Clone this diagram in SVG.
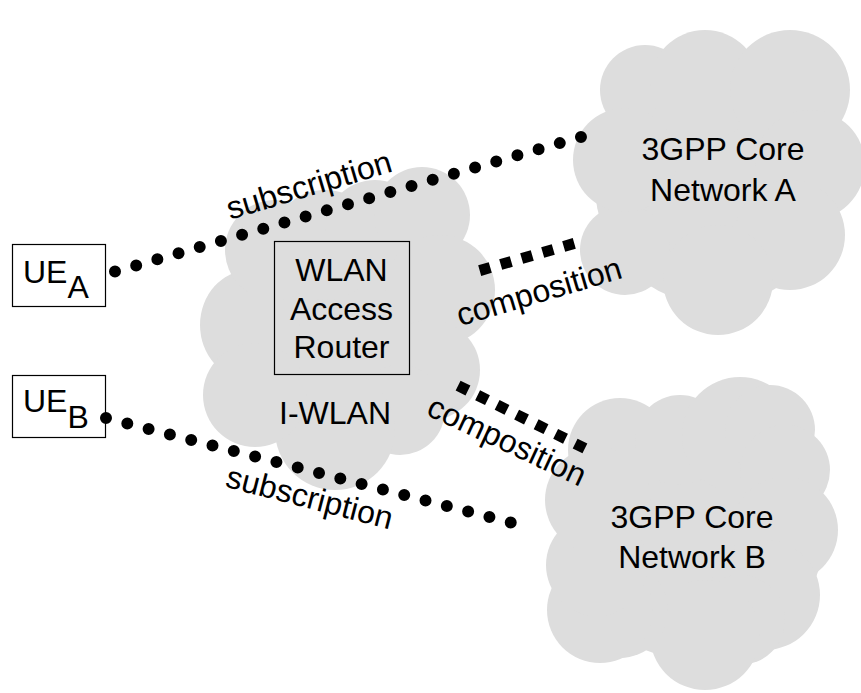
<svg xmlns="http://www.w3.org/2000/svg" width="861" height="693" viewBox="0 0 861 693">
<style>
.cloud *{fill:#dddddd;stroke:none}
.box{fill:none;stroke:#000;stroke-width:1.2}
text{font-family:"Liberation Sans",Arial,sans-serif;font-size:32px;fill:#000}
.mid{text-anchor:middle}
.dots{fill:none;stroke:#000;stroke-width:12;stroke-linecap:round}
.sq{fill:none;stroke:#000;stroke-width:11;stroke-linecap:butt}
</style>
<rect width="861" height="693" fill="#fff"/>
<g id="iwlan">
<g class="cloud">
<ellipse cx="345" cy="320" rx="120" ry="120"/>
<ellipse cx="250" cy="325" rx="50" ry="55"/>
<circle cx="275" cy="250" r="50"/>
<circle cx="325" cy="245" r="55"/>
<circle cx="375" cy="230" r="50"/>
<circle cx="422" cy="215" r="48"/>
<circle cx="440" cy="290" r="55"/>
<circle cx="430" cy="370" r="50"/>
<circle cx="400" cy="410" r="45"/>
<circle cx="335" cy="430" r="60"/>
<circle cx="255" cy="395" r="52"/>
</g>
<text class="mid" x="335" y="424">I-WLAN</text>
</g>
<g id="cn-a">
<g class="cloud">
<ellipse cx="715" cy="185" rx="120" ry="120"/>
<circle cx="645" cy="90" r="45"/>
<circle cx="705" cy="85" r="55"/>
<circle cx="790" cy="90" r="60"/>
<circle cx="810" cy="165" r="55"/>
<circle cx="790" cy="235" r="55"/>
<circle cx="718" cy="280" r="55"/>
<circle cx="625" cy="250" r="45"/>
<circle cx="625" cy="160" r="52"/>
</g>
<text class="mid" x="723" y="160">3GPP Core</text>
<text class="mid" x="723" y="201">Network A</text>
</g>
<g id="cn-b">
<g class="cloud">
<ellipse cx="695" cy="530" rx="130" ry="130"/>
<circle cx="620" cy="450" r="52"/>
<circle cx="680" cy="440" r="45"/>
<circle cx="740" cy="435" r="58"/>
<circle cx="770" cy="430" r="45"/>
<circle cx="785" cy="470" r="45"/>
<circle cx="785" cy="530" r="53"/>
<circle cx="765" cy="595" r="55"/>
<circle cx="740" cy="620" r="45"/>
<circle cx="705" cy="635" r="55"/>
<circle cx="620" cy="610" r="48"/>
<circle cx="600" cy="610" r="53"/>
<circle cx="597" cy="565" r="51"/>
<circle cx="598" cy="500" r="53"/>
</g>
<text class="mid" x="692" y="528">3GPP Core</text>
<text class="mid" x="692" y="568">Network B</text>
</g>
<g id="router">
<rect class="box" x="274.5" y="241.5" width="135" height="133"/>
<text class="mid" x="341.5" y="281">WLAN</text>
<text class="mid" x="341.5" y="320">Access</text>
<text class="mid" x="341.5" y="358">Router</text>
</g>
<g id="ue-a">
<rect class="box" x="12.5" y="244.5" width="93" height="62"/>
<text x="23" y="283">UE<tspan dy="15">A</tspan></text>
</g>
<g id="ue-b">
<rect class="box" x="12.5" y="375.5" width="93" height="62"/>
<text x="23" y="412">UE<tspan dy="16">B</tspan></text>
</g>
<g id="connectors">
<path class="dots" d="M115,271.5 L581,137" stroke-dasharray="0 22.045"/>
<path class="dots" d="M106,418 L532,528" stroke-dasharray="0 22"/>
<path class="sq" d="M479.7,270.6 L574.3,243.4" stroke-dasharray="11 10.85"/>
<path class="sq" d="M458.1,385.6 L584.9,448.4" stroke-dasharray="11 10.77"/>
<text class="mid" transform="translate(312,195.5) rotate(-16.5)">subscription</text>
<text class="mid" transform="translate(542,302) rotate(-16.5)">composition</text>
<text class="mid" transform="translate(502.5,450.6) rotate(25)">composition</text>
<text class="mid" transform="translate(307,508) rotate(14.5)">subscription</text>
</g>
</svg>
